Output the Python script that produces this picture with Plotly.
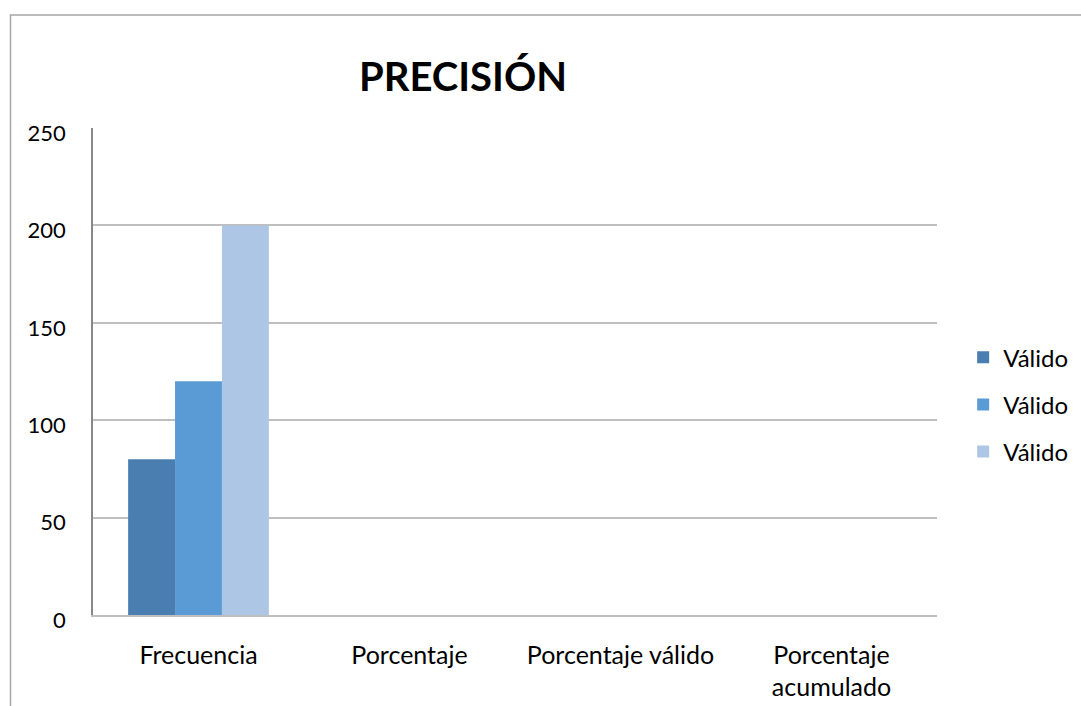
import plotly.graph_objects as go

categories = ["Frecuencia", "Porcentaje", "Porcentaje válido", "Porcentaje<br>acumulado"]
series_names = ["Válido", "Válido", "Válido"]
serie1 = [80, 0, 0, 0]
serie2 = [120, 0, 0, 0]
serie3 = [200, 0, 0, 0]
colors = ["#4A7EB0", "#5B9BD5", "#ADC6E6"]
y_ticks = [0, 50, 100, 150, 200, 250]

FONT = "Lato, 'Open Sans', sans-serif"

fig = go.Figure()
for i, (name, vals) in enumerate(zip(series_names, [serie1, serie2, serie3])):
    fig.add_trace(go.Bar(
        x=categories, y=vals, name=name,
        marker=dict(color=colors[i], line=dict(width=0)),
        legendgroup=f"g{i}",
    ))

fig.update_layout(
    width=1081, height=706,
    margin=dict(l=93, r=144, t=128, b=91, autoexpand=False),
    paper_bgcolor="white", plot_bgcolor="white",
    barmode="group", bargap=0.333, bargroupgap=0,
    title=dict(text="<b>PRECISIÓN</b>", x=(463) / 1081, xanchor="center",
               y=1 - 77 / 706, yanchor="middle",
               font=dict(family=FONT, size=40, color="black")),
    font=dict(family=FONT, size=21, color="black"),
    legend=dict(x=1.031, xanchor="left", y=0.432, yanchor="middle",
                font=dict(family=FONT, size=24, color="black"),
                tracegroupgap=13, bgcolor="rgba(0,0,0,0)"),
    xaxis=dict(showgrid=False, showline=True, linecolor="#BFBFBF", linewidth=1.5,
               ticks="", ticklabelstandoff=17, tickfont=dict(family=FONT, size=25)),
    yaxis=dict(range=[0, 250], tickvals=y_ticks, showgrid=True, gridcolor="#BFBFBF",
               gridwidth=1.5, showline=True, linecolor="#888888", linewidth=1.5,
               zeroline=False, ticks="", ticklabelstandoff=21, ticklabelshift=5,
               tickfont=dict(family=FONT, size=22)),
    showlegend=True,
)

# chart frame (extends past right/bottom edges as in reference)
fig.add_shape(type="rect", xref="paper", yref="paper",
              x0=(10.5 - 93) / 844, x1=1.3, y0=-0.5, y1=(615 - 15) / 487,
              line=dict(color="#A6A6A6", width=1.5), fillcolor="rgba(0,0,0,0)",
              layer="below")

fig.write_html("out.html", config={"displayModeBar": False},
               post_script="document.body.style.margin='0px';")
